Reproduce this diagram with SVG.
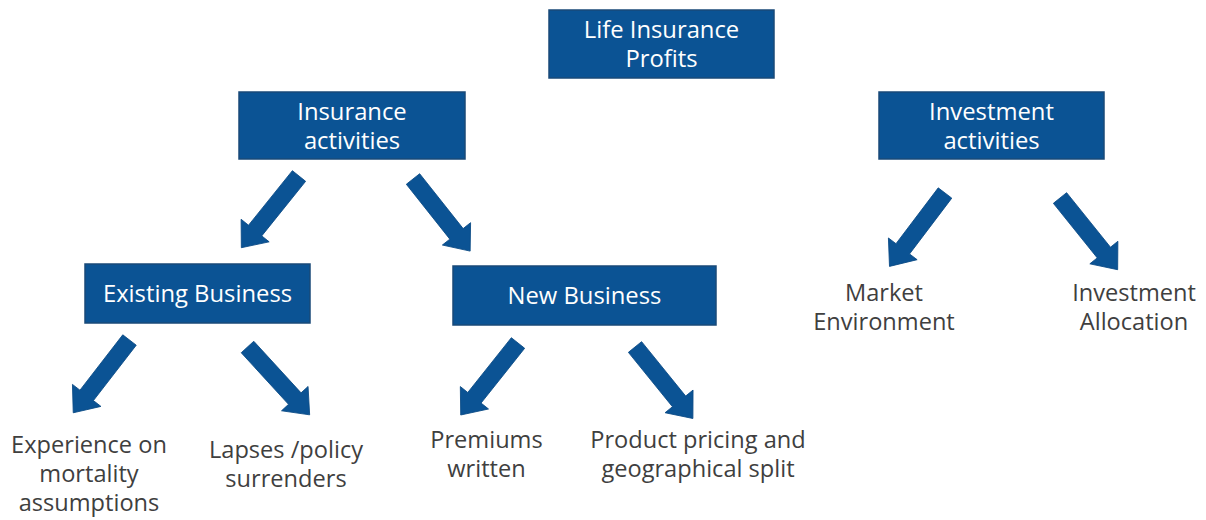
<svg xmlns="http://www.w3.org/2000/svg" xmlns:xlink="http://www.w3.org/1999/xlink" width="1206" height="520" viewBox="0 0 1206 520">
<style>
.box{fill:#0b5394;stroke:#1a4a78;stroke-width:1.5}
.wt{font-family:"Open Sans","Liberation Sans",sans-serif;font-size:23.8px;fill:#ffffff;text-anchor:middle}
.dt{font-family:"Open Sans","Liberation Sans",sans-serif;font-size:23.6px;fill:#3f3f3f;text-anchor:middle}
.arr{fill:#0b5394;stroke:#0a4a85;stroke-width:0.8}
</style>
<defs>
<path id="barrow" d="M0,-8.5 L70,-8.5 L70,-18 L92,0 L70,18 L70,8.5 L0,8.5 Z"/>
</defs>
<rect width="1206" height="520" fill="#ffffff"/>
<g id="connectors">
<use xlink:href="#barrow" class="arr" transform="translate(299,176) rotate(128.8)"/>
<use xlink:href="#barrow" class="arr" transform="translate(413,179) rotate(51.6)"/>
<use xlink:href="#barrow" class="arr" transform="translate(129.5,340) rotate(127.7)"/>
<use xlink:href="#barrow" class="arr" transform="translate(247.5,347) rotate(47.5)"/>
<use xlink:href="#barrow" class="arr" transform="translate(518,343) rotate(128.5)"/>
<use xlink:href="#barrow" class="arr" transform="translate(635,347) rotate(51)"/>
<use xlink:href="#barrow" class="arr" transform="translate(945,193) rotate(127.1)"/>
<use xlink:href="#barrow" class="arr" transform="translate(1060,198) rotate(51.2)"/>
</g>
<g id="n-life">
<rect class="box" x="549" y="10" width="225" height="68"/>
<text class="wt" x="661.5" y="38">Life Insurance</text>
<text class="wt" x="661.5" y="67">Profits</text>
</g>
<g id="n-insurance">
<rect class="box" x="239" y="92" width="226" height="67"/>
<text class="wt" x="352" y="120">Insurance</text>
<text class="wt" x="352" y="149">activities</text>
</g>
<g id="n-investment">
<rect class="box" x="879" y="92" width="225" height="67"/>
<text class="wt" x="991.5" y="120">Investment</text>
<text class="wt" x="991.5" y="149">activities</text>
</g>
<g id="n-existing">
<rect class="box" x="85" y="264" width="225" height="59"/>
<text class="wt" x="197.5" y="302">Existing Business</text>
</g>
<g id="n-new">
<rect class="box" x="453" y="266" width="263" height="59"/>
<text class="wt" x="584.5" y="304">New Business</text>
</g>
<g id="n-market">
<text class="dt" x="884" y="301">Market</text>
<text class="dt" x="884" y="330">Environment</text>
</g>
<g id="n-allocation">
<text class="dt" x="1134" y="301">Investment</text>
<text class="dt" x="1134" y="330">Allocation</text>
</g>
<g id="n-experience">
<text class="dt" x="89" y="453">Experience on</text>
<text class="dt" x="89" y="482">mortality</text>
<text class="dt" x="89" y="511">assumptions</text>
</g>
<g id="n-lapses">
<text class="dt" x="286" y="458">Lapses /policy</text>
<text class="dt" x="286" y="487">surrenders</text>
</g>
<g id="n-premiums">
<text class="dt" x="486.5" y="448">Premiums</text>
<text class="dt" x="486.5" y="477">written</text>
</g>
<g id="n-pricing">
<text class="dt" x="698" y="448">Product pricing and</text>
<text class="dt" x="698" y="477">geographical split</text>
</g>
</svg>
